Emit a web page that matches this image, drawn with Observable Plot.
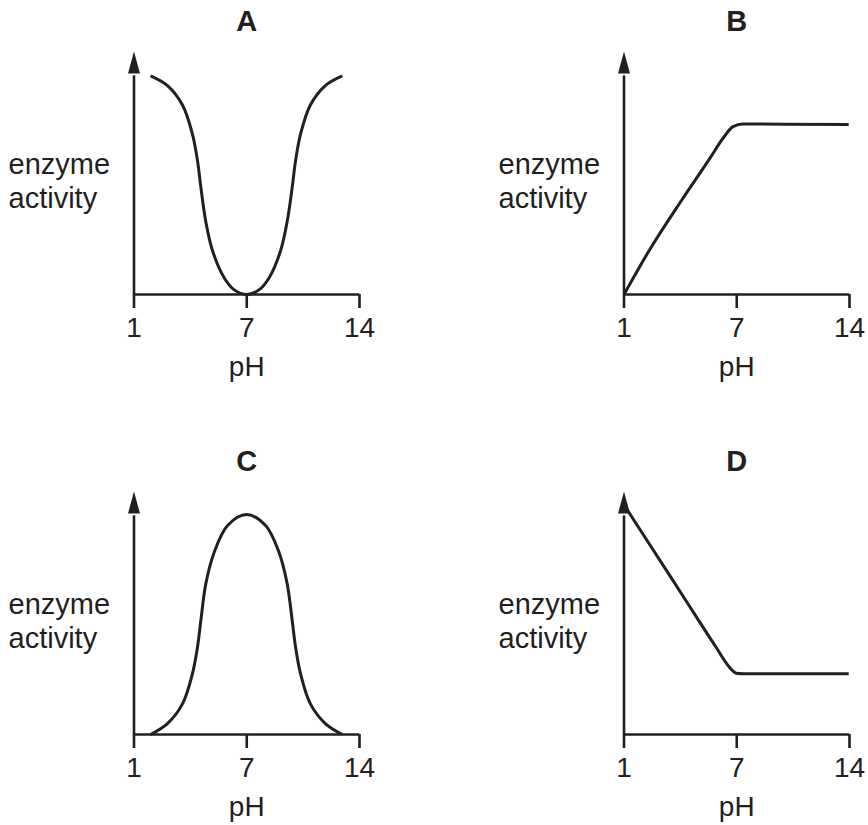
<!DOCTYPE html>
<html>
<head>
<meta charset="utf-8">
<script src="https://cdn.jsdelivr.net/npm/d3@7"></script>
<script src="https://cdn.jsdelivr.net/npm/@observablehq/plot@0.6"></script>
<style>
  body { margin: 0; background: #ffffff; }
  #wrap { position: relative; width: 868px; height: 825px; overflow: hidden; }
  .panel { position: absolute; }
  .panel svg { overflow: visible; }
</style>
</head>
<body>
<div id="wrap"></div>
<script>
// ---- data ----
const panelTitles = ["A", "B", "C", "D"];
const xTicks = [1, 7, 14];
const xLabel = "pH";
const yLabel = "enzyme\nactivity";

const pHA  = [1.88, 2.78, 3.58, 4.11, 4.38, 4.56, 4.82, 5.18, 5.79, 6.32, 7, 7.78, 8.4, 9.1, 9.51, 9.82, 10.03, 10.34, 10.95, 11.88, 12.93];
const actA = [9.0, 8.6, 7.8, 6.6, 5.5, 4.4, 3.0, 1.8, 0.7, 0.2, 0, 0.2, 0.7, 1.8, 3.0, 4.4, 5.5, 6.6, 7.8, 8.6, 9.0];

const pHB  = [1, 2.34, 4.12, 5.55, 6.26, 6.8, 7.38, 10, 13.95];
const actB = [0, 1.81, 3.94, 5.58, 6.42, 6.91, 7.02, 7.01, 7.0];

const pHC  = [1.88, 2.78, 3.58, 4.11, 4.38, 4.56, 4.82, 5.27, 5.98, 7, 8.17, 9.0, 9.51, 9.82, 10.03, 10.34, 10.95, 11.88, 12.93];
const actC = [0, 0.45, 1.26, 2.5, 3.6, 4.7, 6.2, 7.5, 8.6, 9.05, 8.6, 7.5, 6.2, 4.7, 3.6, 2.5, 1.26, 0.45, 0];

const pHD  = [1, 2.34, 4.12, 5.9, 6.61, 6.97, 7.38, 10, 13.95];
const actD = [9.45, 7.85, 5.72, 3.59, 2.77, 2.52, 2.5, 2.5, 2.5];

const series = [[pHA, actA], [pHB, actB], [pHC, actC], [pHD, actD]];
const curves = ["catmull-rom", "monotone-x", "catmull-rom", "monotone-x"];

// ---- drawing ----
const ink = "#231f20";
const font = "'Liberation Sans', Arial, Helvetica, sans-serif";
const W = 378, H = 385;
const ML = 133.5, MR = 19, MT = 51, MB = H - 294;
const panelPos = [[0, 0], [489.8, 0], [0, 440], [489.8, 440]];

const arrowHead = {
  draw(ctx) {
    ctx.moveTo(0, 0);
    ctx.lineTo(-6, 22);
    ctx.lineTo(6, 22);
    ctx.closePath();
  }
};

const wrap = document.getElementById("wrap");

series.forEach(([px, py], i) => {
  const data = px.map((p, j) => ({pH: p, act: py[j]}));
  const chart = Plot.plot({
    width: W,
    height: H,
    marginLeft: ML,
    marginRight: MR,
    marginTop: MT,
    marginBottom: MB,
    style: {fontFamily: font, color: ink, background: "transparent", overflow: "visible"},
    x: {type: "linear", domain: [1, 7, 14], range: [ML, (ML + W - MR) / 2, W - MR]},
    y: {domain: [0, 10], axis: null},
    marks: [
      Plot.axisX(xTicks, {
        tickSize: 14, tickPadding: 9, fontSize: 28,
        stroke: ink, strokeWidth: 2.6, fill: ink, label: null,
        tickFormat: d => String(d)
      }),
      Plot.ruleY([0], {stroke: ink, strokeWidth: 2.6}),
      Plot.ruleX([{x: 1, y1: 0, y2: 9}], {x: "x", y1: "y1", y2: "y2", stroke: ink, strokeWidth: 2.6}),
      Plot.dot([{x: 1, y: 10}], {x: "x", y: "y", symbol: arrowHead, fill: ink, stroke: "none", r: 6}),
      Plot.line(data, {x: "pH", y: "act", curve: curves[i], stroke: ink, strokeWidth: 3, strokeLinecap: "butt"}),
      Plot.text([{t: panelTitles[i], x: 7}], {
        x: "x", text: "t", frameAnchor: "top", lineAnchor: "bottom", dy: -20.3,
        fontSize: 29, fontWeight: "bold", fill: ink
      }),
      Plot.text([{t: xLabel, x: 7}], {
        x: "x", text: "t", frameAnchor: "bottom", lineAnchor: "bottom", dy: 81.7,
        fontSize: 28, fill: ink
      }),
      Plot.text([yLabel], {
        frameAnchor: "left", textAnchor: "start", lineAnchor: "middle",
        dx: -125.5, dy: 7.5, fontSize: 29, lineHeight: 1.172, fill: ink
      })
    ]
  });
  const div = document.createElement("div");
  div.className = "panel";
  div.style.left = panelPos[i][0] + "px";
  div.style.top = panelPos[i][1] + "px";
  div.appendChild(chart);
  wrap.appendChild(div);
});
</script>
</body>
</html>
